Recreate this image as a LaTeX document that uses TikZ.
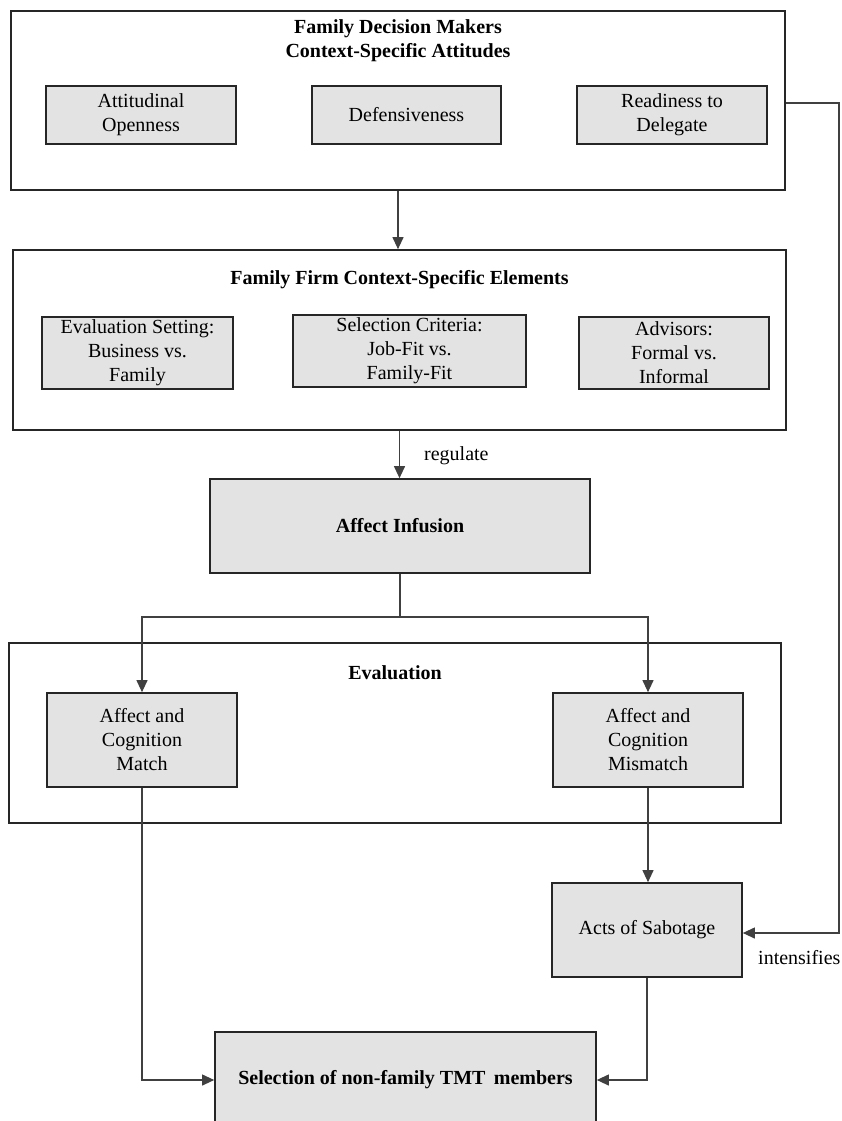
\documentclass[tikz,border=0pt]{standalone}
\usepackage{fontspec}
\setmainfont{Liberation Serif}
\usetikzlibrary{arrows.meta}
\begin{document}
\begin{tikzpicture}[x=1pt,y=-1pt,
  frame/.style={draw=black!85, line width=1.7pt, inner sep=0pt, rectangle},
  greybox/.style={frame, fill=black!11, font=\fontsize{20}{24}\selectfont, align=center},
  boldbox/.style={greybox, font=\bfseries\fontsize{20}{24}\selectfont},
  titletext/.style={font=\bfseries\fontsize{20}{24}\selectfont, align=center, inner sep=0pt},
  labeltext/.style={font=\fontsize{20}{24}\selectfont, inner sep=0pt},
  conn/.style={draw=black!75, line width=1.1pt},
  arr/.style={conn, -{Triangle[length=12pt,width=11pt]}}]
\useasboundingbox (0,0) rectangle (841,1121);
\clip (0,0) rectangle (841,1121);
\fill[white] (0,0) rectangle (841,1121);

% top frame
\node[frame, minimum width=774pt, minimum height=179pt] (T) at (398,100.5) {};
\node[titletext] (Tt) at (398,41) {Family Decision Makers\\Context-Specific Attitudes};
\node[greybox, minimum width=190pt, minimum height=58pt] (A1) at (141,115) {Attitudinal\\Openness};
\node[greybox, minimum width=189pt, minimum height=58pt] (A2) at (406.5,115) {Defensiveness};
\node[greybox, minimum width=190pt, minimum height=58pt] (A3) at (672,115) {Readiness to\\Delegate};

% second frame
\node[frame, minimum width=773pt, minimum height=180pt] (F) at (399.5,340) {};
\node[titletext] (Ft) at (399.5,280) {Family Firm Context-Specific Elements};
\node[greybox, minimum width=191pt, minimum height=72pt] (B1) at (137.5,353) {Evaluation Setting:\\Business vs.\\Family};
\node[greybox, minimum width=233pt, minimum height=72pt] (B2) at (409.5,351) {Selection Criteria:\\Job-Fit vs.\\Family-Fit};
\node[greybox, minimum width=190pt, minimum height=72pt] (B3) at (674,353) {Advisors:\\Formal vs.\\Informal};

% affect infusion
\node[boldbox, minimum width=380pt, minimum height=94pt] (AI) at (400,526) {Affect Infusion};
\node[labeltext, anchor=west] (reg) at (424,456) {regulate};

% evaluation frame
\node[frame, minimum width=772pt, minimum height=180pt] (E) at (395,733) {};
\node[titletext] (Et) at (395,673) {Evaluation};
\node[greybox, minimum width=190pt, minimum height=94pt] (M1) at (142,740) {Affect and\\Cognition\\Match};
\node[greybox, minimum width=190pt, minimum height=94pt] (M2) at (648,740) {Affect and\\Cognition\\Mismatch};

% sabotage and selection
\node[greybox, minimum width=190pt, minimum height=94pt] (S) at (647,930) {Acts of Sabotage};
\node[boldbox, minimum width=381pt, minimum height=96pt] (SEL) at (405.5,1080) {Selection of non-family TMT\, members};
\node[labeltext, anchor=west] (int) at (758,958) {intensifies};

% connectors
\coordinate (split) at (400,617);
\coordinate (rt) at (839,103);
\draw[arr] (T.south) -- (T.south |- F.north);
\draw[arr] (F.south) -- (F.south |- AI.north);
\draw[conn] (AI.south) -- (split);
\draw[arr] (split) -| (M1.north);
\draw[arr] (split) -| (M2.north);
\draw[arr] (M2.south) -- (M2.south |- S.north);
\draw[arr] (M1.south) |- (SEL.west);
\draw[arr] (S.south) |- (SEL.east);
\draw[arr] (T.east |- rt) -- (rt) |- ([yshift=-3pt]S.east);
\end{tikzpicture}
\end{document}
